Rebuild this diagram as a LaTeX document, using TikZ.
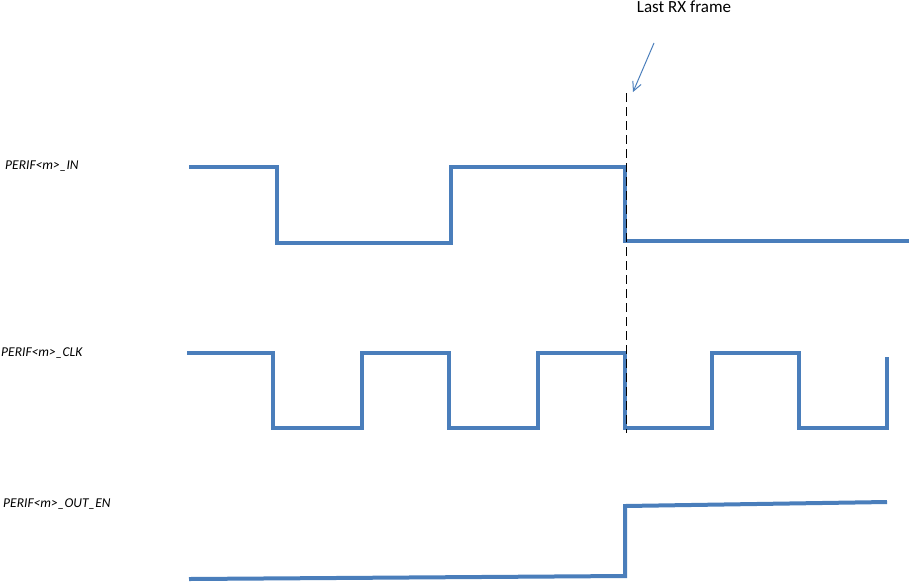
\documentclass[tikz,border=0pt]{standalone}
\usepackage{fontspec}
\setmainfont{Carlito}
\usetikzlibrary{arrows.meta}
\definecolor{wave}{RGB}{74,126,187}
\begin{document}
\begin{tikzpicture}[x=1pt,y=-1pt,
  wavestyle/.style={draw=wave,line width=4pt,line join=miter},
  siglabel/.style={anchor=west,inner sep=0pt,font=\fontsize{13.5}{15}\selectfont\itshape},
  marker/.style={draw=black,line width=0.9pt,dash pattern=on 9pt off 5pt},
  pointer/.style={draw=wave,line width=1pt,-{Straight Barb[length=9pt,width=9pt]}}]
\useasboundingbox (0,0) rectangle (909,582);
% labels
\node[siglabel] (lin) at (5,166) {PERIF<m>\_IN};
\node[siglabel] (lclk) at (1,353) {PERIF<m>\_CLK};
\node[siglabel] (lout) at (3,504) {PERIF<m>\_OUT\_EN};
\node[inner sep=0pt,font=\fontsize{17}{19}\selectfont] (title) at (684,7) {Last RX frame};
% IN waveform
\draw[wavestyle] (189,167) -- (277,167) -- (277,243) -- (451,243) -- (451,167)
  -- (625,167) -- (625,241) -- (909,241);
% CLK waveform
\draw[wavestyle] (187,353) -- (273,353) -- (273,428) -- (362,428) -- (362,353)
  -- (449,353) -- (449,428) -- (538,428) -- (538,353) -- (625,353) -- (625,428)
  -- (712,428) -- (712,353) -- (799,353) -- (799,428) -- (887,428) -- (887,357);
% OUT_EN waveform
\draw[wavestyle] (189,579) -- (625,576) -- (625,506) -- (887,502);
% dashed marker
\coordinate (dtop) at (626,93);
\coordinate (dbot) at (626,433);
\draw[marker] (dtop) -- (dbot);
% pointer arrow
\coordinate (astart) at (654,43);
\coordinate (aend) at (633,92);
\draw[pointer] (astart) -- (aend);
\end{tikzpicture}
\end{document}
